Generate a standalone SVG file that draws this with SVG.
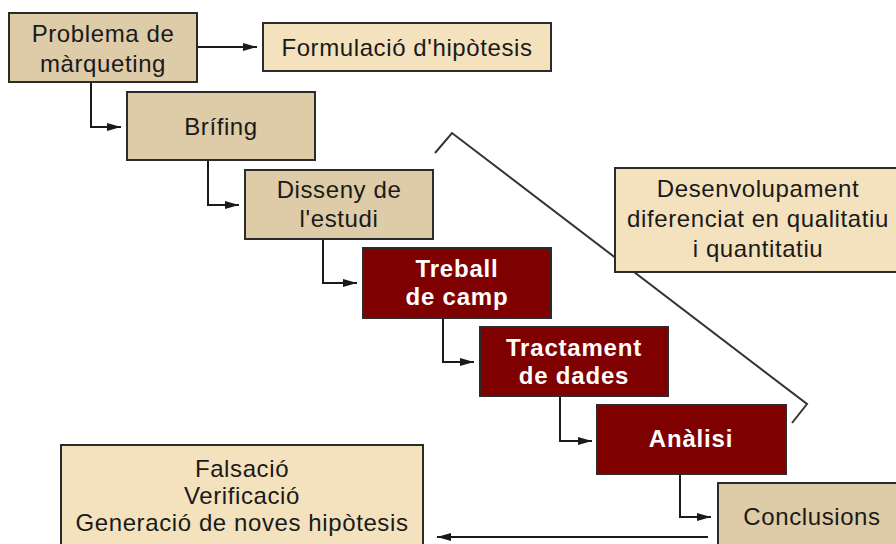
<svg xmlns="http://www.w3.org/2000/svg" width="896" height="544" viewBox="0 0 896 544">
<style>
.tan{fill:#DECBA7;stroke:#2b2b2b;stroke-width:2}
.light{fill:#F4E1BD;stroke:#2b2b2b;stroke-width:2}
.red{fill:#7F0000;stroke:#2b2b2b;stroke-width:2}
.t{font-family:"Liberation Sans",Arial,sans-serif;font-size:24px;letter-spacing:0.6px;fill:#1a1a1a;text-anchor:middle}
.w{font-family:"Liberation Sans",Arial,sans-serif;font-size:24px;letter-spacing:0.8px;font-weight:bold;fill:#ffffff;text-anchor:middle}
.c{fill:none;stroke:#1a1a1a;stroke-width:2}
</style>
<defs>
<marker id="ah" markerUnits="userSpaceOnUse" markerWidth="14" markerHeight="10" refX="14" refY="5" orient="auto">
<path d="M0,1 L14,5 L0,9 z" fill="#1a1a1a"/>
</marker>
</defs>
<rect width="896" height="544" fill="#ffffff"/>
<g id="bracket">
<polyline points="435,153 452,133 807,404 792,423" fill="none" stroke="#333" stroke-width="2"/>
</g>
<g id="connectors">
<path class="c" d="M197,47 H257" marker-end="url(#ah)"/>
<path class="c" d="M91,82 V127 H121" marker-end="url(#ah)"/>
<path class="c" d="M208,160 V205 H239" marker-end="url(#ah)"/>
<path class="c" d="M323,239 V283 H357" marker-end="url(#ah)"/>
<path class="c" d="M443,318 V362 H474" marker-end="url(#ah)"/>
<path class="c" d="M560,396 V441 H592" marker-end="url(#ah)"/>
<path class="c" d="M680,474 V517 H711" marker-end="url(#ah)"/>
<path class="c" d="M708,537 H437" marker-end="url(#ah)"/>
</g>
<g id="problema">
<rect class="tan" x="9" y="13" width="188" height="69"/>
<text class="t" x="103" y="42">Problema de</text>
<text class="t" x="103" y="72">màrqueting</text>
</g>
<g id="formulacio">
<rect class="light" x="263" y="23" width="288" height="48"/>
<text class="t" x="407" y="56">Formulació d'hipòtesis</text>
</g>
<g id="brifing">
<rect class="tan" x="127" y="92" width="188" height="68"/>
<text class="t" x="221" y="135">Brífing</text>
</g>
<g id="disseny">
<rect class="tan" x="245" y="170" width="188" height="69"/>
<text class="t" x="339" y="198">Disseny de</text>
<text class="t" x="339" y="227">l'estudi</text>
</g>
<g id="treball">
<rect class="red" x="363" y="248" width="188" height="70"/>
<text class="w" x="457" y="277">Treball</text>
<text class="w" x="457" y="305">de camp</text>
</g>
<g id="tractament">
<rect class="red" x="480" y="327" width="188" height="69"/>
<text class="w" x="574" y="356">Tractament</text>
<text class="w" x="574" y="384">de dades</text>
</g>
<g id="analisi">
<rect class="red" x="597" y="405" width="189" height="69"/>
<text class="w" x="691" y="447">Anàlisi</text>
</g>
<g id="conclusions">
<rect class="tan" x="718" y="483" width="188" height="69"/>
<text class="t" x="812" y="525">Conclusions</text>
</g>
<g id="desenvolupament">
<rect class="light" x="615" y="168" width="286" height="104"/>
<text class="t" x="758" y="197">Desenvolupament</text>
<text class="t" x="758" y="227">diferenciat en qualitatiu</text>
<text class="t" x="758" y="257">i quantitatiu</text>
</g>
<g id="falsacio">
<rect class="light" x="61" y="445" width="362" height="110"/>
<text class="t" x="242" y="477">Falsació</text>
<text class="t" x="242" y="504">Verificació</text>
<text class="t" x="242" y="531">Generació de noves hipòtesis</text>
</g>
</svg>
